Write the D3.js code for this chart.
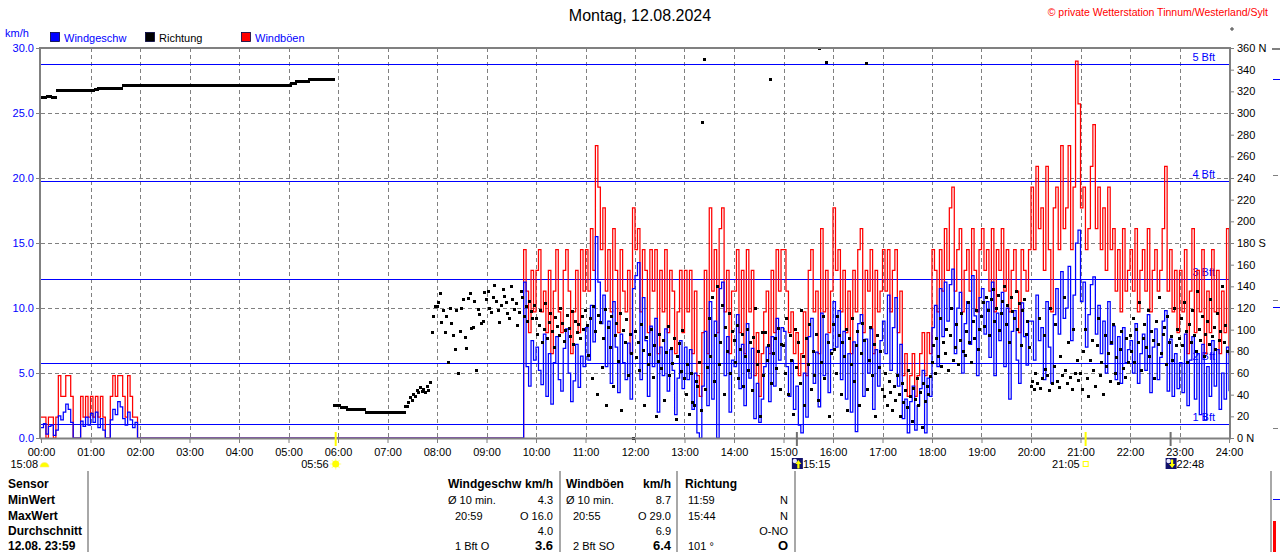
<!DOCTYPE html>
<html>
<head>
<meta charset="utf-8">
<script src="https://cdn.jsdelivr.net/npm/d3@7"></script>
<style>
  body { margin: 0; background: #fff; }
  svg { display: block; font-family: "Liberation Sans", Arial, sans-serif; }
</style>
</head>
<body>
<svg id="chart" width="1280" height="552"></svg>
<script>
// Achsen
const hourLabels = ["00:00","01:00","02:00","03:00","04:00","05:00","06:00","07:00","08:00","09:00","10:00","11:00","12:00",
  "13:00","14:00","15:00","16:00","17:00","18:00","19:00","20:00","21:00","22:00","23:00","24:00"];
const speedTicks = [0, 5, 10, 15, 20, 25, 30];
const dirTicks = [0, 20, 40, 60, 80, 100, 120, 140, 160, 180, 200, 220, 240, 260, 280, 300, 320, 340, 360];
const dirNames = { 0: "N", 180: "S", 360: "N" };
const bftLevels = [1.08, 5.76, 12.24, 19.8, 28.8];
const bftLabels = ["1 Bft", "2 Bft", "3 Bft", "4 Bft", "5 Bft"];

// Richtung in Grad, alle 2 Minuten ab 00:00
const dirStep = 2;
const direction = [
  314,314,314,314,315,315,315,314,314,314,321,321,321,321,321,321,321,321,321,321,321,321,321,321,321,321,321,321,321,321,
  321,321,321,322,322,323,323,323,323,323,323,323,323,323,323,323,323,323,323,323,325,325,325,325,325,325,325,325,325,325,
  325,325,325,325,325,325,325,325,325,325,325,325,325,325,325,325,325,325,325,325,325,325,325,325,325,325,325,325,325,325,
  325,325,325,325,325,325,325,325,325,325,325,325,325,325,325,325,325,325,325,325,325,325,325,325,325,325,325,325,325,325,
  325,325,325,325,325,325,325,325,325,325,325,325,325,325,325,325,325,325,325,325,325,325,325,325,325,325,325,325,325,325,
  325,325,327,327,327,329,329,329,329,329,329,329,329,331,331,331,331,331,331,331,331,331,331,331,331,331,331,331,30,30,
  30,30,28,28,28,28,26,26,26,26,26,26,26,26,26,26,26,24,24,24,24,24,24,24,24,24,24,24,24,24,
  24,24,24,24,24,24,24,24,24,24,24,29,29,33,37,35,40,38,44,42,47,43,45,42,48,44,51,97,112,121,
  121,125,133,107,118,97,112,70,120,106,95,82,118,60,98,120,128,93,83,129,133,101,102,126,62,119,114,106,108,134,
  128,135,120,116,130,141,126,118,107,122,137,131,125,115,110,140,128,119,124,104,116,135,130,112,121,108,126,117,110,122,
  110,96,104,118,88,100,124,92,107,115,98,84,111,103,95,120,106,89,99,113,101,94,117,86,108,97,105,92,112,100,
  118,104,76,110,55,121,98,40,113,107,65,92,119,30,102,84,112,48,95,106,71,115,25,99,88,109,58,96,78,0,
  98,74,88,62,105,81,30,93,68,77,100,56,85,20,71,96,64,90,35,79,103,58,83,69,92,17,75,87,61,99,
  55,40,68,22,60,33,30,52,48,70,25,291,349,45,65,110,75,130,52,95,140,68,88,122,40,102,80,115,60,98,
  90,70,104,55,82,96,48,75,100,62,88,44,93,120,68,80,20,97,58,97,72,85,331,50,78,92,64,101,45,86,
  85,60,110,40,95,72,22,100,65,88,50,118,75,30,92,68,105,45,80,58,96,35,360,70,112,55,347,88,20,78,
  105,82,60,112,95,40,88,75,100,25,92,68,110,52,85,98,30,78,106,90,346,45,72,102,58,86,20,95,65,80,
  45,38,60,30,52,42,25,48,35,58,40,20,50,33,44,28,62,38,15,46,36,55,30,42,10,50,34,48,40,57,
  70,85,60,92,75,110,66,88,78,100,62,95,120,72,84,105,68,90,115,80,76,98,125,88,70,108,92,118,82,100,
  112,125,103,130,118,95,128,137,108,120,132,99,115,126,140,105,122,88,130,117,110,135,100,124,85,118,128,96,108,84,
  48,52,45,60,50,110,46,55,95,63,58,44,120,50,66,105,52,47,75,58,130,62,50,88,56,45,100,60,72,53,
  60,45,80,100,55,38,72,90,62,48,85,110,58,70,40,95,66,78,52,88,105,60,74,50,82,98,64,56,92,70,
  95,80,110,70,100,88,125,62,92,105,84,118,75,98,90,55,108,86,130,78,96,102,68,112,88,94,72,120,85,100,
  92,110,85,125,98,70,105,88,118,95,80,135,100,90,112,75,96,108,86,128,94,102,82,115,90,98,140,88,104,80
];

// Wind km/h, alle 3 Minuten: 00:00-01:57 und 09:45-24:00 (dazwischen Flaute)
const windStep = 3;
const earlyStart = 0;
const earlySpeed = [0.8,1.1,0.3,0.9,1.0,0.2,0.6,1.7,1.4,2.0,2.6,2.2,1.2,0,0,0,1.3,0.9,1.6,1.0,
  1.9,1.2,2.0,0.8,1.5,0.6,0,0,1.4,2.2,1.8,2.8,2.4,1.5,1.0,2.0,1.4,0.8,1.2,0];
const earlyGust = [1.6,1.6,0,1.6,1.6,0,1.6,4.8,3.2,3.2,4.8,4.8,3.2,0,0,0,3.2,1.6,3.2,1.6,
  3.2,1.6,3.2,1.6,3.2,1.6,0,0,3.2,4.8,3.2,4.8,4.8,3.2,1.6,4.8,3.2,1.6,1.6,0];
const lateStart = 585;
const lateSpeed = [
  12.0,5.5,4.0,7.5,6.0,
  7.0,5.2,4.1,8.0,3.2,6.5,2.6,5.8,7.8,4.5,3.6,6.9,8.4,5.0,2.8,4.4,7.2,3.9,6.3,5.5,
  8.5,6.0,10.2,7.4,15.5,12.0,8.8,11.0,5.5,9.0,4.2,10.5,7.0,3.5,8.0,5.8,4.5,7.3,3.0,11.5,
  12.5,13.5,4.5,10.8,7.5,3.2,8.6,5.5,9.2,2.0,7.0,4.8,8.4,3.6,6.8,5.2,1.8,4.6,7.5,3.8,
  7.0,4.5,6.8,2.2,5.0,0.4,0.0,4.0,8.2,2.5,10.5,3.0,9.0,0.0,11.5,12.0,4.8,7.8,2.0,6.0,
  5.5,9.5,3.8,7.2,2.5,8.8,4.6,6.9,1.5,4.2,1.2,3.0,5.5,7.0,2.8,7.8,4.0,9.2,6.0,8.5,
  8.2,5.5,3.2,6.0,2.2,4.0,1.0,0.4,5.0,1.6,7.8,9.2,4.2,6.6,2.4,9.6,4.8,8.0,3.5,6.8,
  10.5,7.0,9.8,4.5,8.2,3.0,6.5,2.0,7.4,0.5,8.8,9.5,3.2,7.6,5.0,8.4,2.2,6.8,4.0,7.5,
  9.0,6.5,11.0,5.2,8.5,10.8,4.0,7.2,1.5,3.0,0.4,2.8,4.0,0.6,2.5,3.8,5.2,0.4,4.6,3.2,
  8.5,10.2,5.5,11.5,7.8,12.0,9.0,11.8,13.0,6.5,10.0,11.2,5.0,8.8,10.5,7.2,12.5,9.4,4.8,10.8,
  11.5,8.0,10.5,6.2,12.0,4.8,9.6,7.5,11.2,5.5,10.0,3.0,8.2,9.8,6.0,4.2,10.4,7.8,5.6,9.0,
  9.0,6.0,11.0,7.5,8.5,4.5,10.5,7.0,4.2,9.5,11.5,8.0,12.8,9.2,10.0,13.2,7.5,11.0,15.0,16.0,
  10.5,12.0,7.0,9.5,11.8,12.4,8.0,10.2,6.5,9.0,5.0,10.5,7.2,8.6,4.5,7.8,4.2,8.5,5.8,6.8,
  7.5,5.0,8.8,4.2,6.5,8.0,5.2,9.5,3.5,7.0,8.4,4.5,6.2,9.0,9.8,3.6,7.6,3.2,6.5,3.8,
  5.8,3.5,8.0,2.5,6.0,7.8,3.0,6.5,1.8,7.2,1.4,5.5,3.2,7.5,4.0,6.8,2.2,5.0,3.0,7.0,
  3.6
];
const lateGust = [
  14.5,11.3,8.1,12.9,9.7,
  12.9,14.5,9.7,11.3,8.1,12.9,6.5,11.3,14.5,9.7,8.1,12.9,14.5,11.3,6.5,9.7,12.9,8.1,14.5,11.3,
  14.5,11.3,16.1,12.9,22.5,19.3,14.5,17.7,11.3,14.5,9.7,16.1,12.9,8.1,14.5,11.3,9.7,12.9,6.5,17.7,
  14.5,16.1,9.7,14.5,12.9,8.1,14.5,11.3,14.5,6.5,12.9,9.7,14.5,8.1,12.9,11.3,6.5,9.7,12.9,8.1,
  12.9,9.7,12.9,6.5,11.3,4.8,3.2,8.1,12.9,6.5,17.7,11.3,14.5,8.1,16.1,17.7,9.7,12.9,6.5,11.3,
  11.3,14.5,8.1,12.9,6.5,14.5,9.7,12.9,4.8,8.1,3.2,6.5,9.7,11.3,6.5,12.9,8.1,14.5,11.3,14.5,
  14.5,11.3,8.1,9.7,6.5,8.1,4.8,6.5,9.7,4.8,12.9,14.5,9.7,11.3,6.5,16.1,9.7,12.9,8.1,11.3,
  17.7,12.9,14.5,9.7,12.9,8.1,11.3,6.5,12.9,9.7,14.5,16.1,8.1,12.9,11.3,14.5,6.5,12.9,9.7,11.3,
  14.5,11.3,14.5,9.7,12.9,14.5,8.1,11.3,4.8,6.5,3.2,4.8,6.5,3.2,4.8,6.5,8.1,4.8,8.1,6.5,
  14.5,12.9,9.7,14.5,11.3,16.1,12.9,17.7,19.3,11.3,14.5,16.1,9.7,12.9,14.5,11.3,16.1,12.9,9.7,14.5,
  16.1,12.9,14.5,11.3,16.1,9.7,14.5,12.9,16.1,11.3,14.5,9.7,12.9,14.5,11.3,8.1,14.5,12.9,11.3,14.5,
  19.3,14.5,20.9,16.1,17.7,12.9,20.9,14.5,9.7,17.7,19.3,14.5,22.5,16.1,17.7,22.5,14.5,19.3,29.0,25.7,
  17.7,19.3,14.5,16.1,20.9,24.1,16.1,19.3,14.5,17.7,12.9,19.3,14.5,16.1,11.3,14.5,9.7,16.1,11.3,12.9,
  14.5,11.3,16.1,9.7,12.9,14.5,11.3,16.1,9.7,12.9,14.5,11.3,12.9,16.1,20.9,11.3,14.5,9.7,12.9,8.1,
  12.9,9.7,14.5,6.5,11.3,16.1,8.1,12.9,9.7,14.5,6.5,11.3,8.1,14.5,9.7,12.9,6.5,11.3,8.1,16.1,
  6.4
];

// Sonne / Mond
const astroLabels = ["15:08", "05:56", "15:15", "21:05", "22:48"];

// Tabelle
const tableLabels = ["Sensor", "MinWert", "MaxWert", "Durchschnitt", "12.08.  23:59"];
const speedHead = ["Windgeschw", "km/h"];
const speedLeft = ["Ø 10 min.", "20:59", "", "1 Bft O"];
const speedRight = ["4.3", "O 16.0", "4.0", "3.6"];
const gustHead = ["Windböen", "km/h"];
const gustLeft = ["Ø 10 min.", "20:55", "", "2 Bft SO"];
const gustRight = ["8.7", "O 29.0", "6.9", "6.4"];
const dirHead = ["Richtung", ""];
const dirLeft = ["11:59", "15:44", "", "101 °"];
const dirRight = ["N", "N", "O-NO", "O"];

const svg = d3.select("#chart");
const GRAY = "#808080", BLUE = "#0000ff";

const x = d3.scaleLinear().domain([0, 1440]).range([41, 1229]);
const yS = d3.scaleLinear().domain([0, 30]).range([438, 48]);
const yD = d3.scaleLinear().domain([0, 360]).range([438, 48]);
const toMin = s => +s.slice(0, 2) * 60 + +s.slice(3, 5);
const rowY = [488, 504, 520, 535, 550];

// Titel
svg.append("text").attr("x", 640).attr("y", 21).attr("text-anchor", "middle")
  .attr("font-size", 16).text("Montag, 12.08.2024");
svg.append("text").attr("x", 1268).attr("y", 16).attr("text-anchor", "end")
  .attr("font-size", 10.5).attr("fill", "#ff0000")
  .text("© private Wetterstation Tinnum/Westerland/Sylt");
svg.append("circle").attr("cx", 1232).attr("cy", 29).attr("r", 1.2)
  .attr("fill", "none").attr("stroke", "#000").attr("stroke-width", 0.8);

svg.append("text").attr("x", 5).attr("y", 37).attr("font-size", 11).attr("fill", BLUE).text("km/h");

// Legende
const legend = [
  { x: 50, fill: BLUE, text: "Windgeschw", color: BLUE },
  { x: 145, fill: "#000", text: "Richtung", color: "#000" },
  { x: 241, fill: "#ff0000", text: "Windböen", color: BLUE }
];
const lg = svg.append("g").selectAll("g").data(legend).join("g");
lg.append("rect").attr("x", d => d.x + 0.5).attr("y", 32.5).attr("width", 9).attr("height", 9)
  .attr("fill", d => d.fill).attr("stroke", "#000040").attr("stroke-width", 0.8);
lg.append("text").attr("x", d => d.x + 14).attr("y", 42).attr("font-size", 11)
  .attr("fill", d => d.color).text(d => d.text);

// Gitter
const grid = svg.append("g").attr("stroke", GRAY).attr("stroke-dasharray", "4,3")
  .attr("shape-rendering", "crispEdges");
grid.selectAll("line.v").data(hourLabels.slice(1, -1)).join("line")
  .attr("x1", (d, i) => Math.round(x((i + 1) * 60)) + 0.5).attr("x2", (d, i) => Math.round(x((i + 1) * 60)) + 0.5)
  .attr("y1", 48).attr("y2", 438);
grid.selectAll("line.h").data(speedTicks.slice(1, -1)).join("line")
  .attr("x1", 41).attr("x2", 1229)
  .attr("y1", d => Math.round(yS(d)) + 0.5).attr("y2", d => Math.round(yS(d)) + 0.5);

// Beaufort
const bft = svg.append("g");
bft.selectAll("line").data(bftLevels).join("line")
  .attr("x1", 41).attr("x2", 1229)
  .attr("y1", d => Math.round(yS(d)) + 0.5).attr("y2", d => Math.round(yS(d)) + 0.5)
  .attr("stroke", BLUE).attr("stroke-width", 1.2).attr("shape-rendering", "crispEdges");
bft.selectAll("text").data(bftLevels).join("text")
  .attr("x", 1215).attr("y", d => yS(d) - 3).attr("text-anchor", "end")
  .attr("font-size", 11).attr("fill", BLUE).text((d, i) => bftLabels[i]);

// Windreihen
function windSeries(early, late) {
  const pts = early.map((v, i) => ({ t: earlyStart + i * windStep, v }));
  pts.push({ t: lateStart - windStep, v: 0 });
  late.forEach((v, i) => pts.push({ t: lateStart + i * windStep, v }));
  return pts;
}
const stepLine = d3.line().x(d => x(d.t)).y(d => yS(d.v)).curve(d3.curveStepAfter);

svg.append("path").datum(windSeries(earlyGust, lateGust))
  .attr("d", stepLine).attr("fill", "none").attr("stroke", "#ff0000").attr("stroke-width", 1.25);
svg.append("path").datum(windSeries(earlySpeed, lateSpeed))
  .attr("d", stepLine).attr("fill", "none").attr("stroke", BLUE).attr("stroke-width", 1.25);

// Richtung
svg.append("g").attr("shape-rendering", "crispEdges").selectAll("rect").data(direction).join("rect")
  .attr("x", (d, i) => x(i * dirStep) - 1.5).attr("y", d => yD(d) - 1.5)
  .attr("width", 3).attr("height", 3).attr("fill", "#000");

// Rahmen
svg.append("path")
  .attr("d", `M${40},${438.5}V${48}H${1230}V${438.5}H${40}`)
  .attr("fill", "none").attr("stroke", GRAY).attr("stroke-width", 2);

// Achsen
const styleAxis = (g, color) => {
  g.select(".domain").remove();
  g.selectAll(".tick line").attr("stroke", GRAY);
  g.selectAll(".tick text").attr("fill", color).attr("font-size", 11)
    .attr("font-family", '"Liberation Sans", Arial, sans-serif');
};
svg.append("g").attr("transform", "translate(0,439)")
  .call(d3.axisBottom(x).tickValues(hourLabels.map((d, i) => i * 60)).tickFormat((d, i) => hourLabels[i])
    .tickSize(4).tickPadding(5))
  .call(g => styleAxis(g, "#000"));
svg.append("g").attr("transform", "translate(40,0)")
  .call(d3.axisLeft(yS).tickValues(speedTicks).tickFormat(d3.format(".1f")).tickSize(4).tickPadding(2))
  .call(g => styleAxis(g, BLUE));
svg.append("g").attr("transform", "translate(1230,0)")
  .call(d3.axisRight(yD).tickValues(dirTicks).tickFormat(d => dirNames[d] ? `${d} ${dirNames[d]}` : d)
    .tickSize(4).tickPadding(3))
  .call(g => styleAxis(g, "#000"));

// Sonne / Mond Marken
const astro = svg.append("g").attr("font-size", 11);
const tRise = x(toMin(astroLabels[1])), tSet = x(toMin(astroLabels[3]));
const tMoonUp = x(toMin(astroLabels[2])), tMoonDown = x(toMin(astroLabels[4]));
[tRise, tSet].forEach(px => astro.append("rect").attr("x", px).attr("y", 432).attr("width", 2).attr("height", 14).attr("fill", "#ffff00"));
[tMoonUp, tMoonDown].forEach(px => astro.append("rect").attr("x", px).attr("y", 432).attr("width", 2).attr("height", 14).attr("fill", "#707070"));

astro.append("text").attr("x", 38).attr("y", 468).attr("text-anchor", "end").text(astroLabels[0]);
astro.append("path").attr("d", "M40,467 A4.5,4.5 0 0 1 49,467 Z").attr("fill", "#ffff00").attr("stroke", "#ffe680").attr("stroke-width", 0.6);

astro.append("text").attr("x", tRise - 6).attr("y", 468).attr("text-anchor", "end").text(astroLabels[1]);
const sun = astro.append("g").attr("transform", `translate(${tRise + 1},464)`);
d3.range(8).forEach(k => {
  const a = k * Math.PI / 4;
  sun.append("line").attr("x1", Math.cos(a) * 3).attr("y1", Math.sin(a) * 3)
    .attr("x2", Math.cos(a) * 5.5).attr("y2", Math.sin(a) * 5.5).attr("stroke", "#ffff99").attr("stroke-width", 1.2);
});
sun.append("circle").attr("r", 3.5).attr("fill", "#ffff00");

function moonIcon(px, up) {
  const g = astro.append("g").attr("transform", `translate(${px - 5},458)`);
  g.append("rect").attr("width", 11).attr("height", 11).attr("fill", "#10106b");
  g.append("circle").attr("cx", 3).attr("cy", 3).attr("r", 2.2).attr("fill", "#e8e8ff");
  const arrow = up ? "M6.5,2 L9.5,6 H7.6 V10.5 H5.4 V6 H3.5 Z" : "M6.5,10 L9.5,6 H7.6 V1.5 H5.4 V6 H3.5 Z";
  g.append("path").attr("d", arrow).attr("fill", "#ffff00");
}
moonIcon(tMoonUp + 1, true);
astro.append("text").attr("x", tMoonUp + 7).attr("y", 468).text(astroLabels[2]);
astro.append("text").attr("x", tSet - 5).attr("y", 468).attr("text-anchor", "end").text(astroLabels[3]);
astro.append("rect").attr("x", tSet - 1.5).attr("y", 461.5).attr("width", 5).attr("height", 5)
  .attr("fill", "none").attr("stroke", "#ffff00").attr("stroke-width", 1);
moonIcon(tMoonDown + 1, false);
astro.append("text").attr("x", tMoonDown + 7).attr("y", 468).text(astroLabels[4]);

// Tabelle
const tbl = svg.append("g").attr("font-size", 11);
[88, 560, 677, 795, 1271].forEach(px => tbl.append("rect").attr("x", px - 1).attr("y", 471)
  .attr("width", 2).attr("height", 81).attr("fill", "#a8a8a8"));
tableLabels.forEach((t, i) => tbl.append("text").attr("x", 8).attr("y", rowY[i])
  .attr("font-weight", "bold").attr("font-size", 12).text(t));

const cols = [
  { head: speedHead, left: speedLeft, right: speedRight, x0: 448, x1: 553, indent: 7 },
  { head: gustHead, left: gustLeft, right: gustRight, x0: 566, x1: 671, indent: 7 },
  { head: dirHead, left: dirLeft, right: dirRight, x0: 685, x1: 788, indent: 3 }
];
cols.forEach(c => {
  tbl.append("text").attr("x", c.x0).attr("y", rowY[0]).attr("font-weight", "bold").attr("font-size", 12).text(c.head[0]);
  tbl.append("text").attr("x", c.x1).attr("y", rowY[0]).attr("text-anchor", "end")
    .attr("font-weight", "bold").attr("font-size", 12).text(c.head[1]);
  c.left.forEach((t, i) => tbl.append("text").attr("x", c.x0 + (i === 0 && c.indent === 7 ? 0 : c.indent))
    .attr("y", rowY[i + 1]).text(t));
  c.right.forEach((t, i) => tbl.append("text").attr("x", c.x1).attr("y", rowY[i + 1])
    .attr("text-anchor", "end").attr("font-weight", i === 3 ? "bold" : "normal")
    .attr("font-size", i === 3 ? 13 : 11).text(t));
});

// rechter Rand (angeschnittene Nachbargrafik)
const edge = svg.append("g").attr("shape-rendering", "crispEdges");
edge.append("line").attr("x1", 1272).attr("x2", 1280).attr("y1", 48.5).attr("y2", 48.5).attr("stroke", GRAY).attr("stroke-width", 2);
edge.append("line").attr("x1", 1273).attr("x2", 1280).attr("y1", 79.5).attr("y2", 79.5).attr("stroke", BLUE);
edge.append("line").attr("x1", 1273).attr("x2", 1280).attr("y1", 307.5).attr("y2", 307.5).attr("stroke", BLUE);
edge.append("line").attr("x1", 1273).attr("x2", 1280).attr("y1", 499.5).attr("y2", 499.5).attr("stroke", BLUE);
[175, 300, 428].forEach(py => edge.append("line").attr("x1", 1273).attr("x2", 1278)
  .attr("y1", py + 0.5).attr("y2", py + 0.5).attr("stroke", GRAY));
edge.append("rect").attr("x", 1273).attr("y", 521).attr("width", 3).attr("height", 31).attr("fill", "#ff0000");
</script>
</body>
</html>
